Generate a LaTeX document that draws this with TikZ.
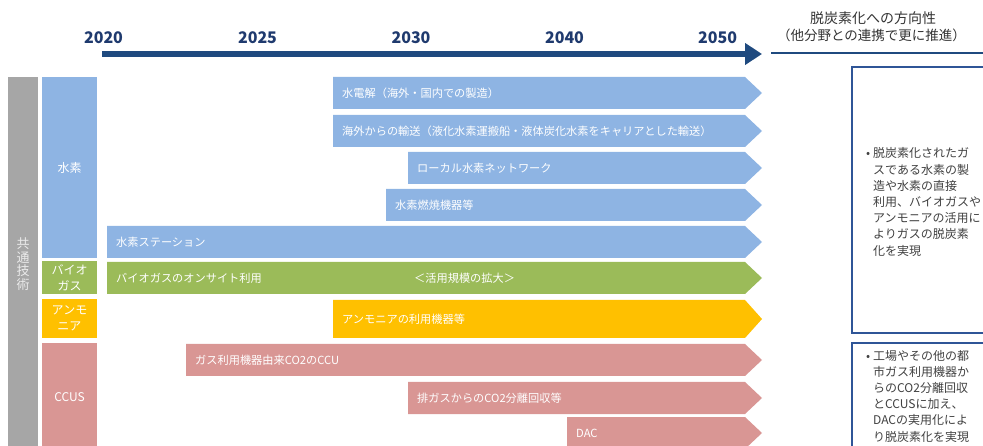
\documentclass[tikz,border=0pt]{standalone}
\usepackage{fontspec}
\setmainfont{Noto Sans CJK JP}
\usetikzlibrary{arrows.meta}

\definecolor{h2blue}{HTML}{8EB4E3}
\definecolor{biogreen}{HTML}{9BBB59}
\definecolor{nh3yellow}{HTML}{FFC000}
\definecolor{ccuspink}{HTML}{D99694}
\definecolor{techgray}{HTML}{A6A6A6}
\definecolor{axisblue}{HTML}{1F4A7F}
\definecolor{yearnavy}{HTML}{1F3A6E}
\definecolor{goalframe}{HTML}{2F5597}
\definecolor{inktext}{HTML}{404040}

% one time bar: name, left, top, bottom, colour, text
\newcommand{\timebar}[6]{%
  \fill[#5] (#2,#3) -- (745,#3) -- (762,{(#3+#4)/2}) -- (745,#4) -- (#2,#4) -- cycle;
  \node[bartext] (#1) at (#2+9,{(#3+#4)/2}) {#6};
}

\begin{document}
\begin{tikzpicture}[
    x=1pt, y=-1pt,
    bartext/.style={anchor=west, inner sep=0pt, text=white, font=\fontsize{11.2}{13}\selectfont},
    catbox/.style={inner sep=0pt, text=white, align=center, font=\fontsize{12}{16}\selectfont},
    year/.style={text=yearnavy, font=\fontsize{16}{18}\selectfont\bfseries},
    header/.style={text=black!80, font=\fontsize{14}{16}\selectfont},
    timeline/.style={axisblue, line width=6.5pt, -{Triangle[length=17pt, width=21pt]}},
    dirline/.style={axisblue, line width=2.5pt},
    goalbox/.style={draw=goalframe, line width=1.8pt},
    goaltext/.style={anchor=west, align=left, inner sep=0pt, text=inktext, font=\fontsize{12}{16.2}\selectfont}
]
\clip (0,0) rectangle (983,446);

% time axis
\coordinate (tstart) at (102,54);
\coordinate (tend) at (762,54);
\draw[timeline] (tstart) -- (tend);
\coordinate (dstart) at (771,53);
\coordinate (dend) at (983,53);
\draw[dirline] (dstart) -- (dend);

\foreach \yr/\xx in {2020/103.5, 2025/257.5, 2030/411, 2040/564.5, 2050/717.5}
    \node[year] (y\yr) at (\xx,37.5) {\yr};

\node[header] (head1) at (873,18) {脱炭素化への方向性};
\node[header, font=\fontsize{13.5}{16}\selectfont] (head2) at (871.5,35) {（他分野との連携で更に推進）};

% categories
\node[catbox, fill=techgray, minimum width=30pt, minimum height=373pt, text=white!92!black,
      font=\fontsize{13}{13.5}\selectfont] (common) at (23,264) {共\\通\\技\\術};
\node[catbox, fill=h2blue, minimum width=55pt, minimum height=181pt] (h2) at (69.5,167.5) {水素};
\node[catbox, fill=biogreen, minimum width=55pt, minimum height=33pt] (bio) at (69.5,277.5) {バイオ\\ガス};
\node[catbox, fill=nh3yellow, minimum width=55pt, minimum height=39pt] (nh3) at (69.5,318.5) {アンモ\\ニア};
\node[catbox, fill=ccuspink, minimum width=55pt, minimum height=108pt] (ccus) at (69.5,397) {CCUS};

% bars
\timebar{elec}{333}{77}{109}{h2blue}{水電解（海外・国内での製造）}
\timebar{import}{333}{115}{147}{h2blue}{海外からの輸送（液化水素運搬船・液体炭化水素をキャリアとした輸送）}
\timebar{local}{408}{152}{184}{h2blue}{ローカル水素ネットワーク}
\timebar{burn}{386}{189}{221}{h2blue}{水素燃焼機器等}
\timebar{station}{107}{226}{258}{h2blue}{水素ステーション}
\timebar{biogas}{107}{262}{294}{biogreen}{バイオガスのオンサイト利用}
\node[bartext] (scaleup) at (414,278) {＜活用規模の拡大＞};
\timebar{nh3use}{333}{300}{338}{nh3yellow}{アンモニアの利用機器等}
\timebar{ccu}{186}{344}{376}{ccuspink}{ガス利用機器由来CO2のCCU}
\timebar{capture}{408}{382}{414}{ccuspink}{排ガスからのCO2分離回収等}
\timebar{dac}{567}{417}{449}{ccuspink}{DAC}

% direction boxes
\draw[goalbox] (852,67) rectangle (995,333);
\draw[goalbox] (852,343) rectangle (995,460);
\node[goaltext] (goal1) at (873,202) {\llap{•\hspace{3pt}}脱炭素化されたガ\\スである水素の製\\造や水素の直接\\利用、バイオガスや\\アンモニアの活用に\\よりガスの脱炭素\\化を実現};
\node[goaltext] (goal2) at (873,396) {\llap{•\hspace{3pt}}工場やその他の都\\市ガス利用機器か\\らのCO2分離回収\\とCCUSに加え、\\DACの実用化によ\\り脱炭素化を実現};

\end{tikzpicture}
\end{document}
